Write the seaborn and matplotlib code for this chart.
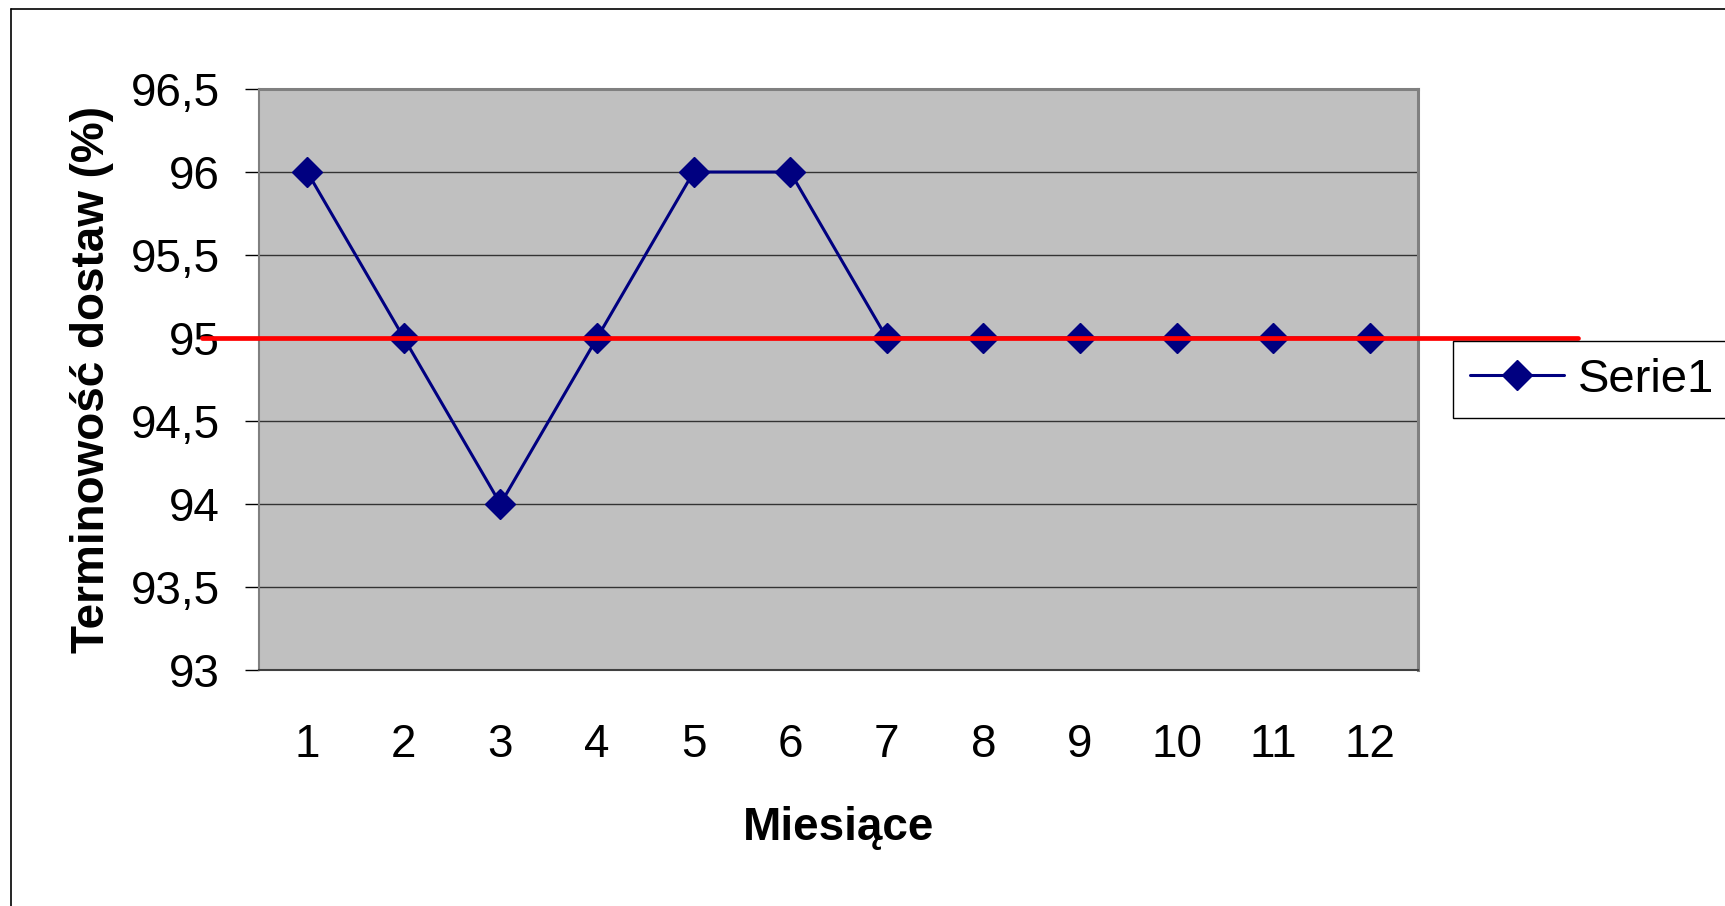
import matplotlib
matplotlib.use("Agg")
import matplotlib.pyplot as plt
from matplotlib.lines import Line2D
from matplotlib.ticker import FixedLocator
import seaborn as sns
import pandas as pd

# Monthly on-time delivery rate (%)
months = list(range(1, 13))
on_time = [96, 95, 94, 95, 96, 96, 95, 95, 95, 95, 95, 95]
target = 95
y_ticks = [93, 93.5, 94, 94.5, 95, 95.5, 96, 96.5]
series_name = "Serie1"

sns.set_style("white")
plt.rcParams["font.family"] = ["Liberation Sans", "DejaVu Sans"]
plt.rcParams["text.color"] = "black"
plt.rcParams["axes.labelcolor"] = "black"
plt.rcParams["xtick.color"] = "black"
plt.rcParams["ytick.color"] = "black"

df = pd.DataFrame({"month": months, "value": on_time})

fig = plt.figure(figsize=(17.25, 9.06), dpi=100)
ax = fig.add_axes([259 / 1725, 1 - 670 / 906, (1418 - 259) / 1725, (670 - 89) / 906])
ax.set_facecolor("#C0C0C0")

# Horizontal gridlines
for yv in y_ticks[1:-1]:
    ax.axhline(yv, color="#333333", linewidth=1.0, zorder=1)

sns.lineplot(data=df, x="month", y="value", ax=ax, color="#000080",
             linewidth=2.2, marker="D", markersize=15, markeredgecolor="#000080",
             markeredgewidth=1, label=series_name, zorder=3)

# Target level line, extending past the plot area
ax.plot([-0.049, 1.138], [target, target], transform=ax.get_yaxis_transform(),
        color="#FF0000", linewidth=3.4, clip_on=False, zorder=5)

ax.set_xlim(0.5, 12.5)
ax.set_ylim(93, 96.5)

ax.set_yticks(y_ticks)
ax.set_yticklabels([("%g" % v).replace(".", ",") for v in y_ticks])

# Category labels centred, tick marks on category boundaries
ax.xaxis.set_major_locator(FixedLocator(months))
ax.set_xticklabels([str(m) for m in months])
ax.xaxis.set_minor_locator(FixedLocator([m + 0.5 for m in range(0, 13)]))
ax.tick_params(axis="x", which="major", length=0, pad=38, labelsize=33,
               labelcolor="black")
ax.tick_params(axis="x", which="minor", length=11.5, width=1, color="#555555")
ax.tick_params(axis="y", which="major", length=10, width=1, color="black",
               pad=18, labelsize=33, left=True, labelcolor="black")

ax.set_xlabel("Miesiące", fontsize=33, fontweight="bold", labelpad=28,
              color="black")
ax.set_ylabel("Terminowość dostaw (%)", fontsize=33, fontweight="bold",
              labelpad=12, color="black")

for side, col, lw in [("top", "#808080", 2.2), ("right", "#808080", 2.2),
                      ("left", "#808080", 1.5), ("bottom", "#404040", 1.5)]:
    ax.spines[side].set_visible(True)
    ax.spines[side].set_color(col)
    ax.spines[side].set_linewidth(lw)

leg = ax.legend(loc="center", bbox_to_anchor=(1592 / 1725, 1 - 379.5 / 906),
                bbox_transform=fig.transFigure, fontsize=34, frameon=True,
                fancybox=False, edgecolor="black", framealpha=1,
                handlelength=2.0, handletextpad=0.3, borderpad=0.35,
                borderaxespad=0)
leg.get_frame().set_linewidth(1.0)
for t in leg.get_texts():
    t.set_color("black")

# Chart area border (left and top edges visible)
fig.add_artist(Line2D([11 / 1725, 11 / 1725], [0, 1 - 9 / 906], color="black",
                      linewidth=1.2, transform=fig.transFigure))
fig.add_artist(Line2D([11 / 1725, 1], [1 - 9 / 906, 1 - 9 / 906], color="black",
                      linewidth=1.2, transform=fig.transFigure))

fig.savefig("out.png", dpi=100)
